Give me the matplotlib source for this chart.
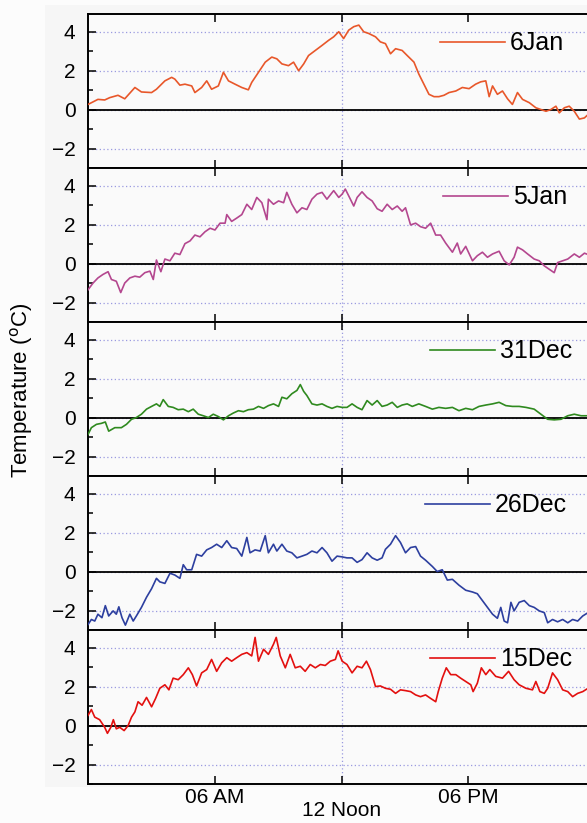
import matplotlib
matplotlib.use("Agg")
import matplotlib.pyplot as plt
from matplotlib.ticker import MultipleLocator
from matplotlib.patches import Rectangle

plt.rcParams['font.family'] = ['Liberation Sans', 'DejaVu Sans']

# ---------------- data (hours after midnight, temperature in °C) ----------------
labels = ["6Jan", "5Jan", "31Dec", "26Dec", "15Dec"]
colors = ["#e8572a", "#b4478f", "#2f8a1f", "#2d3f9f", "#e3100f"]

t_6jan = [0, 0.47, 0.79, 1.03, 1.42, 1.74, 2.22, 2.53, 3.01, 3.24, 3.64, 3.96, 4.11, 4.35,
          4.59, 4.91, 5.06, 5.38, 5.62, 5.85, 6.17, 6.41, 6.65, 6.96, 7.28, 7.59, 7.75,
          8.07, 8.39, 8.70, 8.94, 9.18, 9.49, 9.73, 9.97, 10.21, 10.44, 10.76, 11.08,
          11.39, 11.63, 11.87, 12.10, 12.34, 12.58, 12.82, 13.05, 13.29, 13.61, 13.84,
          14.08, 14.32, 14.56, 14.87, 15.11, 15.43, 15.66, 15.90, 16.14, 16.38, 16.61,
          16.85, 17.09, 17.41, 17.72, 18.04, 18.35, 18.59, 18.83, 18.99, 19.15, 19.38,
          19.62, 19.86, 20.09, 20.33, 20.57, 20.89, 21.20, 21.44, 21.68, 21.91, 22.15,
          22.31, 22.55, 22.78, 23.02, 23.26, 23.50, 23.67]
v_6jan = [0.26, 0.52, 0.49, 0.61, 0.73, 0.55, 1.13, 0.9, 0.87, 1.04, 1.47, 1.65, 1.56, 1.25,
          1.3, 1.21, 0.87, 1.13, 1.47, 1.04, 1.21, 1.91, 1.47, 1.3, 1.13, 1.01, 1.39, 1.91,
          2.43, 2.69, 2.6, 2.34, 2.25, 2.43, 1.99, 2.34, 2.77, 3.03, 3.29, 3.55, 3.73, 3.99,
          3.64, 4.07, 4.25, 4.33, 3.99, 3.9, 3.73, 3.47, 3.38, 2.86, 3.12, 3.03, 2.77, 2.43,
          1.82, 1.3, 0.78, 0.66, 0.66, 0.73, 0.87, 0.95, 1.13, 1.07, 1.3, 1.42, 1.47, 0.66,
          1.21, 0.78, 0.95, 0.55, 0.26, 0.87, 0.52, 0.35, 0.09, 0.0, -0.09, 0.0, 0.17,
          -0.17, 0.09, 0.17, -0.09, -0.49, -0.43, -0.26]

t_5jan = [0, 0.24, 0.47, 0.71, 0.95, 1.11, 1.34, 1.55, 1.74, 1.98, 2.22, 2.45, 2.69, 2.93,
          3.09, 3.24, 3.45, 3.64, 3.88, 4.11, 4.35, 4.59, 4.83, 5.06, 5.30, 5.54, 5.78,
          6.01, 6.25, 6.49, 6.57, 6.80, 7.04, 7.28, 7.52, 7.75, 7.99, 8.23, 8.47, 8.54,
          8.78, 9.02, 9.26, 9.41, 9.65, 9.89, 10.13, 10.36, 10.60, 10.84, 11.08, 11.31,
          11.63, 11.87, 12.03, 12.18, 12.42, 12.58, 12.74, 12.97, 13.21, 13.45, 13.69,
          13.92, 14.16, 14.40, 14.64, 14.87, 15.03, 15.27, 15.51, 15.74, 15.98, 16.22,
          16.46, 16.69, 16.93, 17.25, 17.48, 17.64, 17.88, 18.20, 18.43, 18.67, 18.91,
          19.15, 19.46, 19.70, 19.94, 20.17, 20.33, 20.57, 20.81, 21.12, 21.36, 21.60,
          21.84, 22.07, 22.23, 22.47, 22.71, 23.02, 23.26, 23.50, 23.67]
v_5jan = [-1.35, -1.0, -0.74, -0.56, -0.42, -0.82, -0.91, -1.49, -1.0, -0.74, -0.65, -0.7,
          -0.47, -0.39, -0.82, 0.18, -0.42, 0.23, 0.14, 0.53, 0.46, 1.02, 1.16, 1.46, 1.37,
          1.63, 1.81, 1.72, 2.07, 2.07, 2.51, 2.16, 2.33, 2.51, 3.04, 2.77, 3.39, 3.12,
          2.25, 3.3, 3.04, 3.21, 3.12, 3.65, 3.04, 2.6, 2.86, 2.77, 3.3, 3.56, 3.65, 3.3,
          3.74, 3.39, 3.56, 3.82, 3.3, 2.95, 3.39, 3.68, 3.39, 3.21, 2.81, 2.68, 3.04,
          2.77, 2.95, 2.68, 2.86, 1.98, 2.07, 1.89, 1.81, 2.07, 1.46, 1.46, 1.05, 0.58,
          1.05, 0.49, 0.88, 0.14, 0.4, 0.58, 0.32, 0.49, 0.63, 0.14, -0.07, 0.32, 0.84,
          0.7, 0.49, 0.23, 0.14, -0.12, -0.3, -0.47, 0.05, 0.14, 0.23, 0.49, 0.32, 0.53,
          0.46]

t_31dec = [0, 0.16, 0.40, 0.63, 0.82, 0.98, 1.27, 1.58, 1.82, 2.06, 2.29, 2.53, 2.77, 3.01,
           3.24, 3.40, 3.56, 3.80, 4.03, 4.27, 4.51, 4.75, 4.98, 5.22, 5.46, 5.70, 5.93,
           6.17, 6.41, 6.65, 6.88, 7.12, 7.36, 7.59, 7.83, 8.07, 8.31, 8.54, 8.78, 9.02,
           9.18, 9.41, 9.65, 9.89, 10.05, 10.21, 10.36, 10.60, 10.84, 11.08, 11.31, 11.55,
           11.79, 12.03, 12.26, 12.50, 12.74, 12.97, 13.21, 13.45, 13.69, 13.92, 14.16,
           14.40, 14.64, 14.87, 15.11, 15.35, 15.66, 15.98, 16.30, 16.61, 16.93, 17.25,
           17.56, 17.88, 18.20, 18.51, 18.83, 19.15, 19.46, 19.78, 20.09, 20.41, 20.73,
           21.12, 21.44, 21.76, 22.07, 22.39, 22.71, 23.02, 23.34, 23.67]
v_31dec = [-0.87, -0.52, -0.35, -0.3, -0.23, -0.7, -0.52, -0.52, -0.35, -0.09, 0.0, 0.17,
           0.43, 0.57, 0.7, 0.57, 0.92, 0.57, 0.52, 0.4, 0.43, 0.3, 0.43, 0.17, 0.09, 0.0,
           0.17, 0.05, -0.12, 0.09, 0.23, 0.35, 0.3, 0.4, 0.43, 0.57, 0.47, 0.61, 0.7,
           0.57, 1.04, 0.96, 1.22, 1.39, 1.69, 1.34, 1.13, 0.7, 0.64, 0.7, 0.57, 0.47, 0.57,
           0.52, 0.52, 0.7, 0.52, 0.4, 0.87, 0.64, 0.87, 0.57, 0.64, 0.78, 0.52, 0.64, 0.7,
           0.57, 0.7, 0.57, 0.43, 0.52, 0.47, 0.52, 0.35, 0.47, 0.4, 0.57, 0.64, 0.7, 0.78,
           0.61, 0.57, 0.57, 0.52, 0.43, 0.17, -0.09, -0.12, -0.09, 0.09, 0.17, 0.09, 0.09]

t_26dec = [0, 0.16, 0.32, 0.47, 0.66, 0.82, 0.98, 1.19, 1.34, 1.46, 1.61, 1.77, 1.98, 2.14,
           2.29, 2.53, 2.77, 3.01, 3.24, 3.40, 3.64, 3.88, 4.11, 4.35, 4.51, 4.67, 4.91,
           5.14, 5.38, 5.62, 5.85, 6.09, 6.33, 6.57, 6.80, 7.04, 7.28, 7.52, 7.67, 7.91,
           8.15, 8.39, 8.54, 8.78, 8.94, 9.18, 9.41, 9.65, 9.89, 10.13, 10.36, 10.60,
           10.84, 11.08, 11.31, 11.55, 11.79, 12.03, 12.26, 12.50, 12.74, 12.97, 13.21,
           13.45, 13.69, 13.92, 14.08, 14.32, 14.56, 14.79, 15.03, 15.27, 15.51, 15.74,
           15.98, 16.30, 16.53, 16.77, 17.01, 17.25, 17.56, 17.88, 18.20, 18.43, 18.67,
           18.91, 19.15, 19.38, 19.54, 19.70, 19.86, 20.02, 20.17, 20.41, 20.65, 20.89,
           21.12, 21.36, 21.60, 21.76, 21.99, 22.23, 22.47, 22.71, 22.94, 23.18, 23.42,
           23.67]
v_26dec = [-2.72, -2.46, -2.54, -2.19, -2.37, -1.75, -2.28, -2.02, -2.19, -1.81, -2.37,
           -2.75, -2.19, -2.54, -2.28, -1.84, -1.32, -0.88, -0.35, -0.53, -0.61, -0.09,
           -0.18, -0.35, 0.35, 0.09, 0.09, 0.88, 0.79, 1.11, 1.23, 1.4, 1.23, 1.58, 1.23,
           1.18, 0.79, 1.75, 0.96, 1.11, 1.05, 1.84, 0.96, 1.4, 1.05, 1.4, 1.05, 0.96, 0.7,
           0.79, 0.88, 1.05, 0.96, 1.23, 0.96, 0.53, 0.79, 0.75, 0.7, 0.7, 0.47, 0.61, 0.96,
           0.7, 0.58, 0.7, 1.14, 1.4, 1.84, 1.49, 0.96, 1.23, 1.28, 0.79, 0.58, 0.26, 0.0,
           0.09, -0.44, -0.4, -0.7, -0.96, -1.05, -1.14, -1.49, -1.84, -2.19, -2.4, -1.84,
           -2.54, -2.63, -1.58, -2.02, -1.58, -1.49, -1.75, -1.84, -2.02, -2.11, -2.63,
           -2.46, -2.58, -2.46, -2.63, -2.46, -2.54, -2.28, -2.11]

t_15dec = [0, 0.16, 0.32, 0.55, 0.79, 0.92, 1.08, 1.20, 1.34, 1.50, 1.71, 1.90, 2.06, 2.22,
           2.37, 2.56, 2.77, 3.01, 3.20, 3.40, 3.64, 3.83, 4.03, 4.27, 4.51, 4.75, 4.94,
           5.14, 5.38, 5.62, 5.85, 6.09, 6.33, 6.57, 6.80, 7.04, 7.28, 7.52, 7.75, 7.91,
           8.07, 8.31, 8.54, 8.78, 8.91, 9.10, 9.34, 9.57, 9.81, 10.05, 10.28, 10.52,
           10.76, 11.00, 11.23, 11.47, 11.71, 11.84, 12.03, 12.26, 12.50, 12.74, 12.97,
           13.18, 13.37, 13.61, 13.84, 14.08, 14.32, 14.56, 14.79, 15.03, 15.27, 15.51,
           15.74, 15.98, 16.22, 16.46, 16.58, 16.77, 16.96, 17.17, 17.41, 17.64, 17.88,
           18.12, 18.23, 18.43, 18.62, 18.83, 19.02, 19.30, 19.62, 19.91, 20.17, 20.41,
           20.73, 21.04, 21.20, 21.39, 21.60, 21.76, 21.99, 22.23, 22.47, 22.71, 22.94,
           23.18, 23.42, 23.67]
v_15dec = [0.52, 0.82, 0.43, 0.3, -0.09, -0.4, -0.09, 0.3, -0.17, -0.09, -0.26, 0.0, 0.43,
           0.7, 1.22, 1.04, 1.44, 0.96, 1.39, 1.91, 2.09, 1.83, 2.43, 2.35, 2.61, 2.96,
           2.61, 2.03, 2.7, 2.87, 3.39, 2.78, 3.22, 3.48, 3.3, 3.48, 3.65, 3.74, 3.57, 4.52,
           3.3, 3.91, 3.65, 4.17, 4.52, 3.57, 2.96, 3.65, 2.96, 3.04, 2.78, 3.13, 2.96,
           3.13, 3.08, 3.3, 3.39, 3.83, 3.3, 3.13, 2.7, 3.04, 2.96, 3.3, 2.87, 2.0, 2.03,
           1.91, 1.86, 1.65, 1.83, 1.79, 1.74, 1.57, 1.48, 1.57, 1.39, 1.22, 1.74, 2.43,
           2.96, 2.61, 2.61, 2.43, 2.26, 2.09, 1.74, 2.17, 2.96, 2.61, 2.87, 2.52, 2.43,
           2.78, 2.35, 2.09, 1.91, 1.83, 2.26, 1.74, 1.65, 1.91, 2.7, 2.35, 1.83, 1.74,
           1.48, 1.65, 1.74, 1.91]

times = [t_6jan, t_5jan, t_31dec, t_26dec, t_15dec]
values = [v_6jan, v_5jan, v_31dec, v_26dec, v_15dec]

xtick_pos = [6, 12, 18]
xtick_labels = ["06 AM", "12 Noon", "06 PM"]
ytick_major = [-2, 0, 2, 4]

# ---------------- figure ----------------
W, H = 587, 823
fig = plt.figure(figsize=(W / 100, H / 100), dpi=100, facecolor="#fcfcfc")
fig.patches.append(Rectangle((45 / W, 1 - 787 / H), 1, (787 - 5) / H,
                             transform=fig.transFigure, facecolor="#f6f6f6",
                             edgecolor="none", zorder=-10))

left_px, right_px, top_px, bottom_px = 88, 595, 14, 784
legend_left_px = [440, 443, 430, 425, 430]
n = len(labels)
ph = (bottom_px - top_px) / n
grid_col = "#9a9ae0"

for i in range(n):
    y0 = top_px + i * ph
    ax = fig.add_axes([left_px / W, 1 - (y0 + ph) / H, (right_px - left_px) / W, ph / H])
    ax.set_facecolor("#fafafa")
    ax.set_xlim(0, 24)
    ax.set_ylim(-3, 4.9)
    ax.plot(times[i], values[i], color=colors[i], lw=1.2, label=labels[i], zorder=3)
    ax.axhline(0, color="black", lw=1.3, zorder=2)
    ax.axvline(12, color=grid_col, lw=0.9, ls=(0, (1, 2)), zorder=1)
    ax.set_yticks(ytick_major)
    ax.yaxis.set_minor_locator(MultipleLocator(1))
    ax.grid(axis="y", which="major", color=grid_col, lw=0.9, ls=(0, (1, 2)), zorder=1)
    ax.set_xticks(xtick_pos)
    ax.tick_params(axis="both", which="major", direction="in", length=6, width=1.1,
                   top=True, right=True, labelsize=15, pad=9)
    ax.tick_params(axis="both", which="minor", direction="in", length=3.5, width=1.1,
                   top=True, right=True)
    ax.tick_params(axis="x", labelsize=15, pad=3)
    for s in ax.spines.values():
        s.set_linewidth(1.4)
    if i < n - 1:
        ax.set_xticklabels([])
    else:
        ax.set_xticklabels(xtick_labels)
        ax.xaxis.get_major_ticks()[1].set_pad(12)
    ax.legend(loc="center left",
              bbox_to_anchor=((legend_left_px[i] - left_px) / (right_px - left_px), 0.81),
              frameon=False, fontsize=18, handlelength=2.6, handletextpad=0.2,
              borderpad=0, borderaxespad=0)

fig.text(22 / W, 1 - 390 / H, r"Temperature ($^{\rm o}$C)", rotation=90,
         ha="center", va="center", fontsize=16)

fig.savefig("out.png", dpi=100, facecolor=fig.get_facecolor())
